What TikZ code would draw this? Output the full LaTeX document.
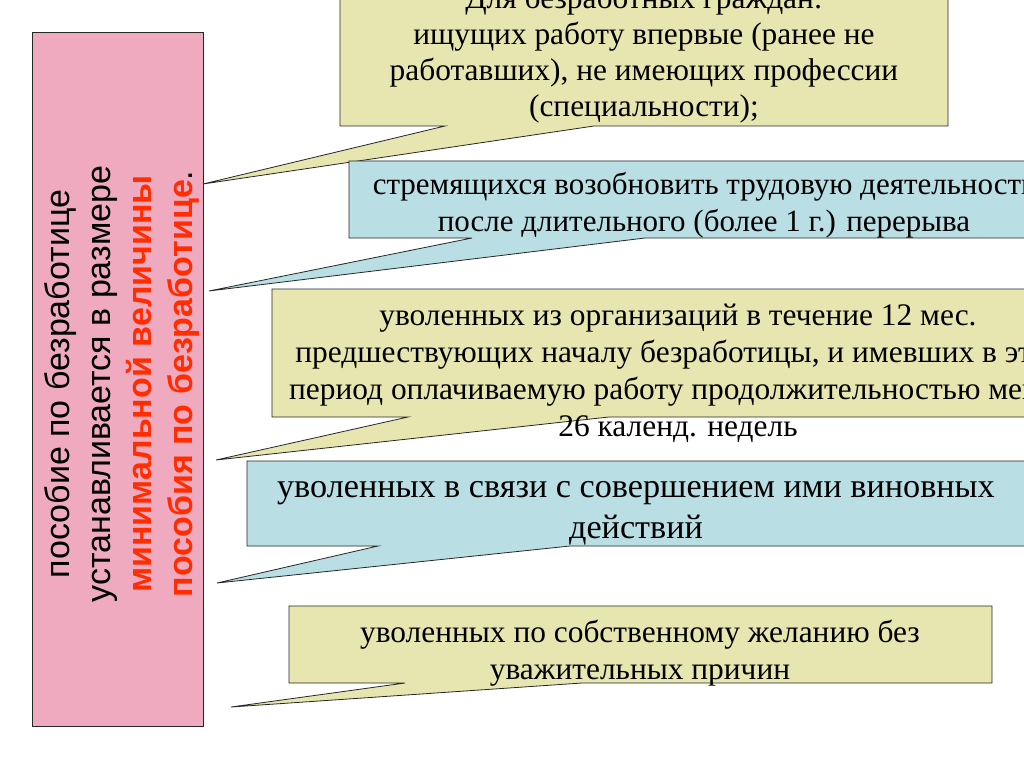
\documentclass[tikz,border=0pt]{standalone}
\usepackage{fontspec}
\setmainfont{Liberation Serif}
\newfontfamily\sansru{Liberation Sans}
\usepackage{xcolor}
\definecolor{pinkfill}{RGB}{240,170,192}
\definecolor{khaki}{RGB}{231,230,176}
\definecolor{aqua}{RGB}{185,222,227}
\definecolor{redtxt}{RGB}{255,45,0}
\usepackage{tikz}
\usetikzlibrary{positioning}
% #1 fill, #2 left, #3 top, #4 right, #5 bottom, #6 wedge left, #7 wedge right, #8 tip
\newcommand{\drawcallout}[8]{%
  \filldraw[fill=#1, draw=black!85, line width=0.8pt, line join=miter]
    (#2,#3) -- (#4,#3) -- (#4,#5) -- (#7,#5) -- (#8) -- (#6,#5) -- (#2,#5) -- cycle;}

\begin{document}
\begin{tikzpicture}[x=1pt,y=-1pt,
    every node/.style={inner sep=0,outer sep=0},
    say/.style={align=center,anchor=base,font=\fontsize{31.4}{37}\selectfont},
    saybig/.style={say,font=\fontsize{34.2}{41}\selectfont}]
  \useasboundingbox (0,0) rectangle (1024,767);
  \clip (0,0) rectangle (1024,767);

  % left column
  \filldraw[fill=pinkfill, draw=black!85, line width=0.8pt] (32,32) rectangle (203,726);
  \node (benefit) [rotate=90, align=center, font=\sansru\fontsize{34}{41}\selectfont] at (122,384)
    {пособие по безработице\\устанавливается в размере\\
     \textcolor{redtxt}{\bfseries минимальной величины}\\
     \textcolor{redtxt}{\bfseries пособия по безработице}.};

  % tips
  \coordinate (tip1) at (203,184);
  \coordinate (tip2) at (209,291);
  \coordinate (tip3) at (216,460);
  \coordinate (tip4) at (217,583);
  \coordinate (tip5) at (231,707);

  % (base anchor = last line)
  \drawcallout{khaki}{340}{-5}{948}{126}{445}{594}{tip1}
  \node (first) [say, font=\fontsize{31.4}{36}\selectfont] at (644,117)
    {Для безработных граждан:\\ищущих работу впервые (ранее не\\работавших), не имеющих профессии\\(специальности);};

  \drawcallout{aqua}{349}{161}{1040}{238}{472}{645}{tip2}
  \node (resume) [say, font=\fontsize{31}{37}\selectfont] at (704,232)
    {стремящихся возобновить трудовую деятельность\\после длительного (более 1 г.) перерыва};

  \drawcallout{khaki}{272}{289}{1040}{417}{408}{609}{tip3}
  \node (fired) [say] at (678,436)
    {уволенных из организаций в течение 12 мес.\\предшествующих началу безработицы, и имевших в этот\\период оплачиваемую работу продолжительностью менее\\26 календ. недель};

  \drawcallout{aqua}{247}{461}{1040}{546}{378}{570}{tip4}
  \node (guilty) [saybig] at (636,538)
    {уволенных в связи с совершением ими виновных\\действий};

  \drawcallout{khaki}{289}{606}{992}{683}{405}{582}{tip5}
  \node (own) [say] at (640,679)
    {уволенных по собственному желанию без\\уважительных причин};
\end{tikzpicture}
\end{document}
